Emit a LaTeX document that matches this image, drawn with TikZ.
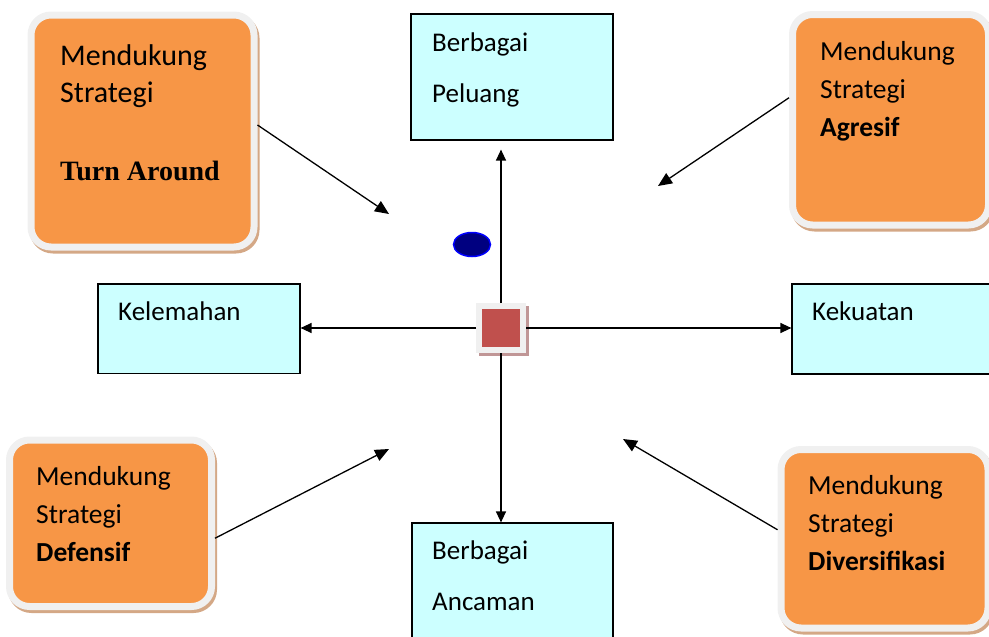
\documentclass[tikz,border=0pt]{standalone}
\usepackage{fontspec}
\setmainfont{Carlito}
\newfontfamily\timesfont{Liberation Serif}
\usetikzlibrary{arrows.meta,shapes.geometric}

\definecolor{orangefill}{RGB}{247,150,70}
\definecolor{cyanfill}{RGB}{204,255,255}
\definecolor{rimgray}{RGB}{240,240,240}
\definecolor{shadowtan}{RGB}{212,168,134}
\definecolor{squarered}{RGB}{192,80,77}
\definecolor{squareshadow}{RGB}{192,150,150}
\definecolor{navyfill}{RGB}{0,0,128}

\tikzset{
  cyanbox/.style={draw=black, line width=1.2pt, fill=cyanfill, inner sep=0pt},
  orangebox/.style={fill=orangefill, draw=rimgray, line width=7pt, rounded corners=20pt, inner sep=0pt,
    preaction={draw=shadowtan, fill=shadowtan, line width=7pt, transform canvas={xshift=2pt, yshift=-3pt}}},
  centresq/.style={fill=squarered, draw=rimgray, line width=6pt, inner sep=0pt,
    preaction={draw=squareshadow, fill=squareshadow, line width=6pt, transform canvas={xshift=3pt, yshift=-3pt}}},
  % base anchor of these sits on the last line
  cyantext/.style={anchor=base west, align=left, inner sep=0pt, font=\fontsize{27}{51}\selectfont},
  orangetext/.style={anchor=base west, align=left, inner sep=0pt, font=\fontsize{27.5}{38}\selectfont},
  axisarrow/.style={line width=1.3pt, -{Triangle[length=11pt,width=10pt]}},
  pointer/.style={line width=1.3pt, -{Triangle[length=14pt,width=12pt]}},
}

\begin{document}
\begin{tikzpicture}[x=1pt,y=-1pt]
\useasboundingbox (0,0) rectangle (989,637);
\clip (0,0) rectangle (989,637);

% the four directions
\node[cyanbox, minimum width=202pt, minimum height=126pt] (peluang) at (512,77) {};
\node[cyanbox, minimum width=201pt, minimum height=137pt] (ancaman) at (512.5,591.5) {};
\node[cyanbox, minimum width=202pt, minimum height=89.5pt] (kelemahan) at (199,328.75) {};
\node[cyanbox, minimum width=208pt, minimum height=90pt] (kekuatan) at (896,329) {};
\node[cyantext] (peluangtext) at (432,102) {Berbagai\\Peluang};
\node[cyantext] (ancamantext) at (432,610) {Berbagai\\Ancaman};
\node[cyantext] (kelemahantext) at (118,320) {Kelemahan};
\node[cyantext] (kekuatantext) at (812,320) {Kekuatan};

% the four strategies
\node[orangebox, minimum width=223pt, minimum height=232pt] (tl) at (142.5,131) {};
\node[orangebox, minimum width=196pt, minimum height=210.5pt] (tr) at (890.5,119.75) {};
\node[orangebox, minimum width=202pt, minimum height=166.5pt] (bl) at (110.5,523.25) {};
\node[orangebox, minimum width=207pt, minimum height=178.5pt] (br) at (884.5,538.75) {};
\node[orangetext, font=\fontsize{30}{37}\selectfont] (tltext) at (60,180)
  {Mendukung\\Strategi\\[41pt]{\timesfont\bfseries\fontsize{28}{37}\selectfont Turn Around}};
\node[orangetext] (trtext) at (820,136) {Mendukung\\Strategi\\\textbf{Agresif}};
\node[orangetext] (bltext) at (36,561) {Mendukung\\Strategi\\\textbf{Defensif}};
\node[orangetext] (brtext) at (808,570) {Mendukung\\Strategi\\\textbf{Diversifikasi}};

% axes
\node[centresq, minimum size=44pt] (sq) at (501,328) {};
\draw[axisarrow, shorten >=9pt] (sq.north) -- (sq.north |- peluang.south);
\draw[axisarrow] (sq.south) -- (sq.south |- ancaman.north);
\draw[axisarrow] (sq.west) -- (sq.west -| kelemahan.east);
\draw[axisarrow] (sq.east) -- (sq.east -| kekuatan.west);
\node[ellipse, draw=blue, fill=navyfill, line width=1.5pt, minimum width=37pt, minimum height=24pt] (dot) at (472,244.5) {};

% pointers to the quadrants
\coordinate (tlend) at (389,214);
\coordinate (trend) at (658,186);
\coordinate (blend) at (389,449);
\coordinate (brend) at (623,439);
\draw[pointer] ([yshift=6pt]tl.east) -- (tlend);
\draw[pointer] ([yshift=22pt]tr.west) -- (trend);
\draw[pointer] ([yshift=-15pt]bl.east) -- (blend);
\draw[pointer] ([yshift=9pt]br.west) -- (brend);
\end{tikzpicture}
\end{document}
